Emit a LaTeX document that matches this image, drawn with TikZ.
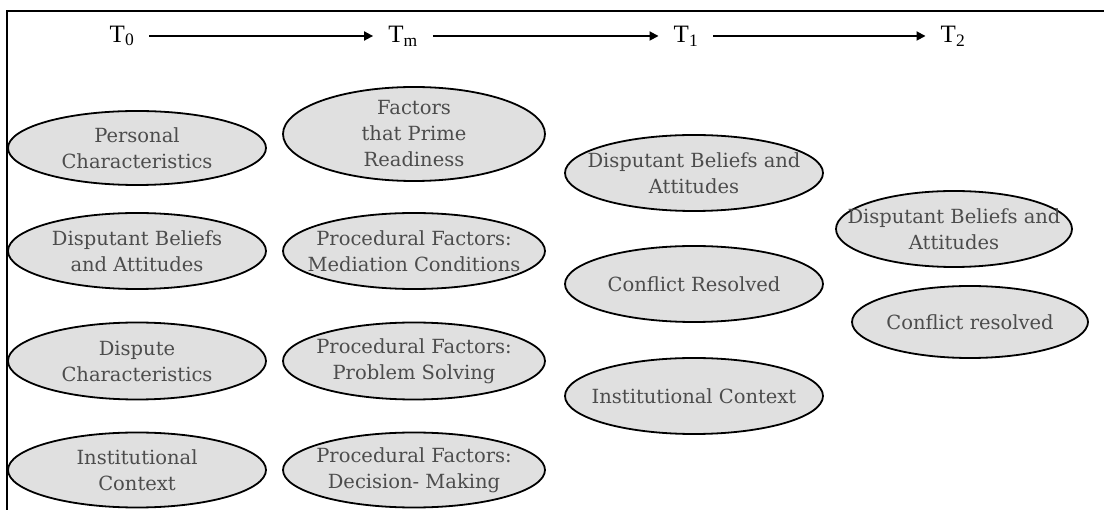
\documentclass[tikz,border=0pt]{standalone}
\usepackage{fontspec}
\setmainfont{Liberation Serif}
\newfontfamily\bubblefont{DejaVu Serif}
\usetikzlibrary{shapes.geometric,arrows.meta}
\tikzset{
  bubble/.style={ellipse, draw=black, line width=1.8pt, fill=black!12,
    inner xsep=-60pt, inner ysep=-20pt, align=center, text=black!70,
    font=\bubblefont\fontsize{19.5}{26}\selectfont},
  timelabel/.style={inner sep=0pt, font=\fontsize{25}{27}\selectfont},
  timearrow/.style={line width=1.8pt, -{Triangle[length=9pt,width=9pt]},
    shorten <=15pt, shorten >=15pt},
  frameline/.style={line width=2.2pt}
}
\begin{document}
\begin{tikzpicture}[x=1pt,y=-1pt]
\useasboundingbox (0,0) rectangle (1104,510);
% open frame: top and left edges only
\coordinate (fl) at (7,510);
\coordinate (fc) at (7,11);
\coordinate (fr) at (1104,11);
\draw[frameline] (fl) -- (fc) -- (fr);

% time line
\node[timelabel] (t0) at (122,36) {T\textsubscript{0}};
\node[timelabel] (tm) at (403,36) {T\textsubscript{m}};
\node[timelabel] (t1) at (686,36) {T\textsubscript{1}};
\node[timelabel] (t2) at (953,36) {T\textsubscript{2}};
\draw[timearrow] (t0) -- (tm);
\draw[timearrow] (tm) -- (t1);
\draw[timearrow] (t1) -- (t2);

% T0 column
\node[bubble, minimum width=258pt, minimum height=74pt] (a1) at (137,148) {Personal\\Characteristics};
\node[bubble, minimum width=258pt, minimum height=76pt] (a2) at (137,251) {Disputant Beliefs\\and Attitudes};
\node[bubble, minimum width=258pt, minimum height=77pt] (a3) at (137,361) {Dispute\\Characteristics};
\node[bubble, minimum width=258pt, minimum height=75pt] (a4) at (137,470) {Institutional\\Context};

% Tm column
\node[bubble, minimum width=262pt, minimum height=94pt] (b1) at (414,134) {Factors\\that Prime\\Readiness};
\node[bubble, minimum width=262pt, minimum height=76pt] (b2) at (414,251) {Procedural Factors:\\Mediation Conditions};
\node[bubble, minimum width=262pt, minimum height=77pt] (b3) at (414,361) {Procedural Factors:\\Problem Solving};
\node[bubble, minimum width=262pt, minimum height=75pt] (b4) at (414,470) {Procedural Factors:\\Decision- Making};

% T1 column
\node[bubble, minimum width=258pt, minimum height=76pt] (c1) at (694,173) {Disputant Beliefs and\\Attitudes};
\node[bubble, minimum width=258pt, minimum height=76pt] (c2) at (694,284) {Conflict Resolved};
\node[bubble, minimum width=258pt, minimum height=76pt] (c3) at (694,396) {Institutional Context};

% T2 column
\node[bubble, minimum width=236pt, minimum height=76pt] (d1) at (954,229) {Disputant Beliefs and\\Attitudes};
\node[bubble, minimum width=236pt, minimum height=72pt] (d2) at (970,322) {Conflict resolved};
\end{tikzpicture}
\end{document}
